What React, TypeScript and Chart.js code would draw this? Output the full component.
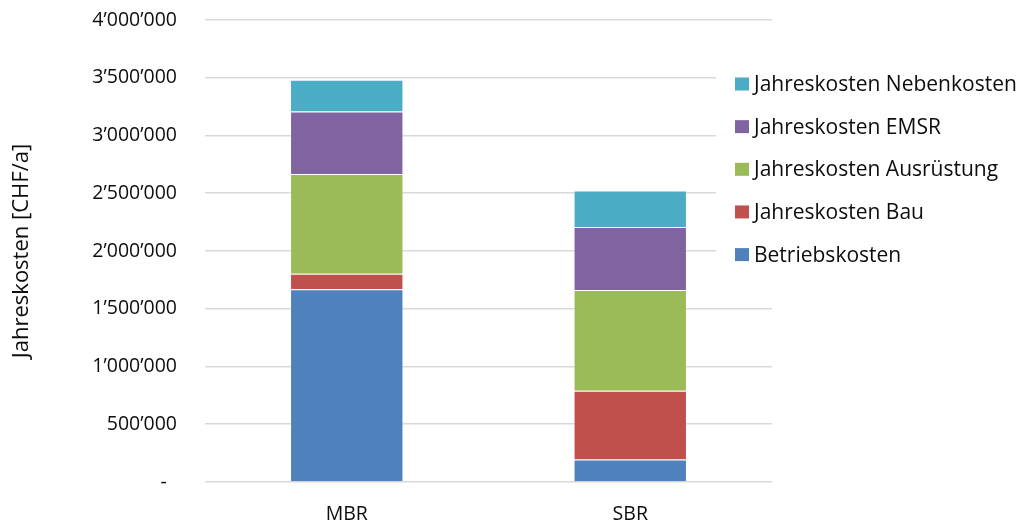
import React, { useEffect, useRef } from "react";
import { Chart, registerables } from "chart.js";

Chart.register(...registerables);

const categories = ["MBR", "SBR"];
const betriebskosten = [1668000, 194000];
const jahreskostenBau = [135000, 595000];
const jahreskostenAusruestung = [864000, 873000];
const jahreskostenEMSR = [540000, 546000];
const jahreskostenNebenkosten = [275000, 315000];

const seriesLabels = [
  "Betriebskosten",
  "Jahreskosten Bau",
  "Jahreskosten Ausrüstung",
  "Jahreskosten EMSR",
  "Jahreskosten Nebenkosten",
];
const seriesColors = ["#4F81BD", "#C0504D", "#9BBB59", "#8064A2", "#4BACC6"];

const yMin = 0;
const yMax = 4000000;
const yStep = 500000;

const FONT = "'Open Sans', sans-serif";
const TEXT = "#0d0d0d";

function formatTick(v: number): string {
  if (v === 0) return "-  ";
  return String(Math.round(v)).replace(/\B(?=(\d{3})+(?!\d))/g, "\u2019");
}

const sideLegend = {
  id: "sideLegend",
  afterDraw(chart: any) {
    const ctx = chart.ctx;
    const area = chart.chartArea;
    const items = chart.data.datasets.slice().reverse();
    ctx.save();
    const bgX = area.right - 56;
    ctx.fillStyle = "#ffffff";
    ctx.fillRect(bgX, 60, chart.width - bgX, 215);
    ctx.font = `21px ${FONT}`;
    ctx.textBaseline = "middle";
    ctx.textAlign = "left";
    items.forEach((d: any, i: number) => {
      const cy = 84 + i * 42.65;
      ctx.fillStyle = d.backgroundColor;
      ctx.fillRect(735, cy - 6.5, 14, 13);
      ctx.fillStyle = TEXT;
      ctx.fillText(d.label, 754, cy + 1);
    });
    ctx.restore();
  },
};

export default function App() {
  const ref = useRef<HTMLCanvasElement | null>(null);

  useEffect(() => {
    if (!ref.current) return;
    const values = [
      betriebskosten,
      jahreskostenBau,
      jahreskostenAusruestung,
      jahreskostenEMSR,
      jahreskostenNebenkosten,
    ];
    const chart = new Chart(ref.current, {
      type: "bar",
      data: {
        labels: categories,
        datasets: values.map((v, i) => ({
          label: seriesLabels[i],
          data: v,
          backgroundColor: seriesColors[i],
          borderColor: "rgba(255,255,255,0.25)",
          borderWidth: 1,
          barPercentage: 0.4,
          categoryPercentage: 1,
        })),
      },
      options: {
        responsive: false,
        animation: false,
        layout: { padding: { left: 0, right: 255, top: 20, bottom: 0 } },
        plugins: {
          legend: { display: false },
          tooltip: { enabled: false },
        },
        scales: {
          x: {
            stacked: true,
            grid: { display: false, drawTicks: false },
            border: { display: false },
            ticks: {
              padding: 21,
              color: TEXT,
              font: { family: FONT, size: 19.5 },
            },
            afterFit: (s: any) => {
              s.height = 44;
            },
          },
          y: {
            stacked: true,
            min: yMin,
            max: yMax,
            grid: { color: "#d9d9d9", lineWidth: 1.6, drawTicks: false },
            border: { display: false },
            ticks: {
              stepSize: yStep,
              padding: 28,
              color: TEXT,
              font: { family: FONT, size: 19.5 },
              callback: (v: any) => formatTick(Number(v)),
            },
            title: {
              display: true,
              text: "Jahreskosten [CHF/a]",
              color: TEXT,
              font: { family: FONT, size: 22 },
              padding: { top: 9, bottom: 0 },
            },
            afterFit: (s: any) => {
              s.width = 205;
              s.paddingTop = 0;
              s.paddingBottom = 0;
            },
          },
        },
      },
      plugins: [sideLegend],
    });
    return () => chart.destroy();
  }, []);

  return (
    <div style={{ position: "fixed", left: 0, top: 0, width: 1027, height: 526, background: "#fff" }}>
      <canvas ref={ref} width={1027} height={526} style={{ width: 1027, height: 526, display: "block" }} />
    </div>
  );
}
